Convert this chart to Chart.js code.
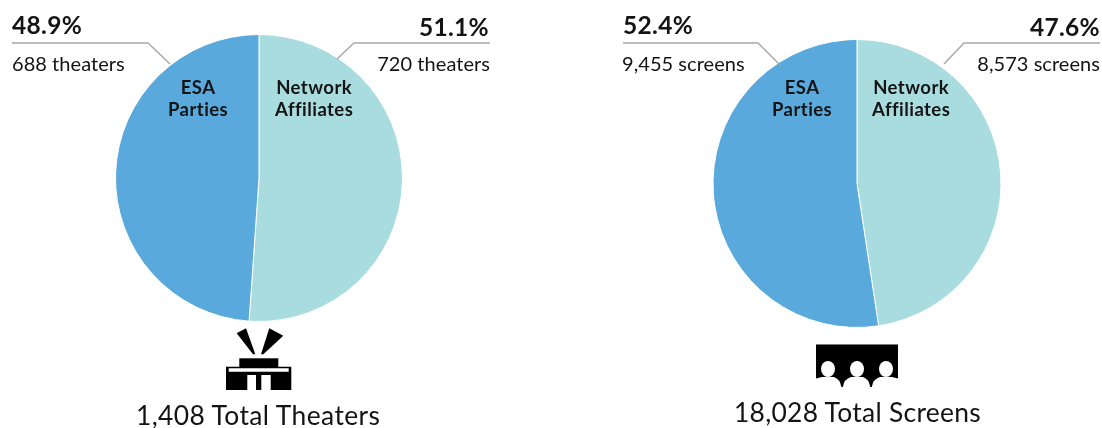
<!DOCTYPE html>
<html>
<head>
<meta charset="utf-8">
<title>Theaters and screens</title>
<script src="https://cdn.jsdelivr.net/npm/chart.js@4"></script>
<style>
  html, body { margin: 0; padding: 0; background: #fff; }
  #page { position: relative; width: 1102px; height: 428px; overflow: hidden; font-family: Lato, sans-serif; color: #141414; }
  canvas { position: absolute; top: 0; }
  svg { position: absolute; left: 0; top: 0; }
  .lbl { position: absolute; white-space: nowrap; line-height: 1; }
  .pct { font-size: 24.5px; font-weight: 700; letter-spacing: 0.3px; }
  .count { font-size: 20px; letter-spacing: 0.05px; }
  .name { font-size: 18.5px; font-weight: 700; line-height: 22px; text-align: center; letter-spacing: 0.45px; }
  .total { font-size: 26.4px; letter-spacing: 0.4px; }
</style>
</head>
<body>
<div id="page">
  <canvas id="theatersPie"></canvas>
  <canvas id="screensPie"></canvas>

  <svg width="1102" height="428" fill="none" stroke="#a9a9a9" stroke-width="1.5">
    <polyline points="12,43 148,43 170,64"/>
    <polyline points="490,43 354,43 337,59"/>
    <polyline points="623,43 758,43 780,65"/>
    <polyline points="1100,43 964,43 944,64"/>

    <!-- theater marquee icon -->
    <g fill="#000" stroke="none">
      <polygon points="236.7,333.3 246,328.3 255.3,354.3 253,354.3"/>
      <polygon points="269.3,328.3 283.3,335.7 263.3,354.3 261,354.3"/>
      <rect x="239.3" y="358.3" width="39" height="9"/>
      <path fill-rule="evenodd" d="M226 366.7H291.3V390H270.7V375H261.3V390H256V375H247.3V390H226ZM228.7 368.3V371.7H288.7V368.3Z"/>
    </g>
    <!-- screen and audience icon -->
    <g fill="#000" stroke="none">
      <path d="M816 344.5H898V378.5L892 377H880Q873 379 871.8 387H870.3Q869 379 863 377H851Q844 379 842.9 387H841.4Q840 379 834 377H822L816 378.5Z"/>
    </g>
    <g fill="#fff" stroke="none">
      <ellipse cx="828" cy="369" rx="7" ry="8"/>
      <ellipse cx="857" cy="369" rx="7" ry="8"/>
      <ellipse cx="886" cy="369" rx="7" ry="8"/>
    </g>
  </svg>

  <div class="lbl pct" style="left:12px;top:13px">48.9%</div>
  <div class="lbl count" style="left:12px;top:53px">688 theaters</div>
  <div class="lbl pct" style="right:613px;top:15px">51.1%</div>
  <div class="lbl count" style="right:612px;top:53px">720 theaters</div>
  <div class="lbl name" style="left:168px;top:76px">ESA<br>Parties</div>
  <div class="lbl name" style="left:275px;top:76px">Network<br>Affiliates</div>
  <div class="lbl total" style="left:136px;top:402px">1,408 Total Theaters</div>

  <div class="lbl pct" style="left:623px;top:13px">52.4%</div>
  <div class="lbl count" style="left:622px;top:53px">9,455 screens</div>
  <div class="lbl pct" style="right:2px;top:15px">47.6%</div>
  <div class="lbl count" style="right:2px;top:53px">8,573 screens</div>
  <div class="lbl name" style="left:772px;top:76px">ESA<br>Parties</div>
  <div class="lbl name" style="left:872px;top:76px">Network<br>Affiliates</div>
  <div class="lbl total" style="left:734px;top:399px;letter-spacing:0.3px">18,028 Total Screens</div>
</div>

<script>
const categories = ['Network Affiliates', 'ESA Parties'];
const theaterShares = [51.1, 48.9];
const screenShares = [47.6, 52.4];
const sliceColors = ['#a8dcdf', '#5aa9dd'];

function drawPie(id, values, left, width, padding) {
  const canvas = document.getElementById(id);
  canvas.style.left = left + 'px';
  canvas.style.width = width + 'px';
  canvas.style.height = '428px';
  canvas.width = width;
  canvas.height = 428;

  new Chart(canvas, {
    type: 'pie',
    data: {
      labels: categories,
      datasets: [{
        data: values,
        backgroundColor: sliceColors,
        borderColor: '#ffffff',
        borderWidth: 1
      }]
    },
    options: {
      responsive: false,
      animation: false,
      layout: { padding },
      plugins: {
        legend: { display: false },
        tooltip: { enabled: false }
      }
    }
  });
}

drawPie('theatersPie', theaterShares, 0, 518, { top: 34, bottom: 106, left: 0, right: 0 });
drawPie('screensPie', screenShares, 602, 500, { top: 39, bottom: 100, left: 10, right: 0 });
</script>
</body>
</html>
